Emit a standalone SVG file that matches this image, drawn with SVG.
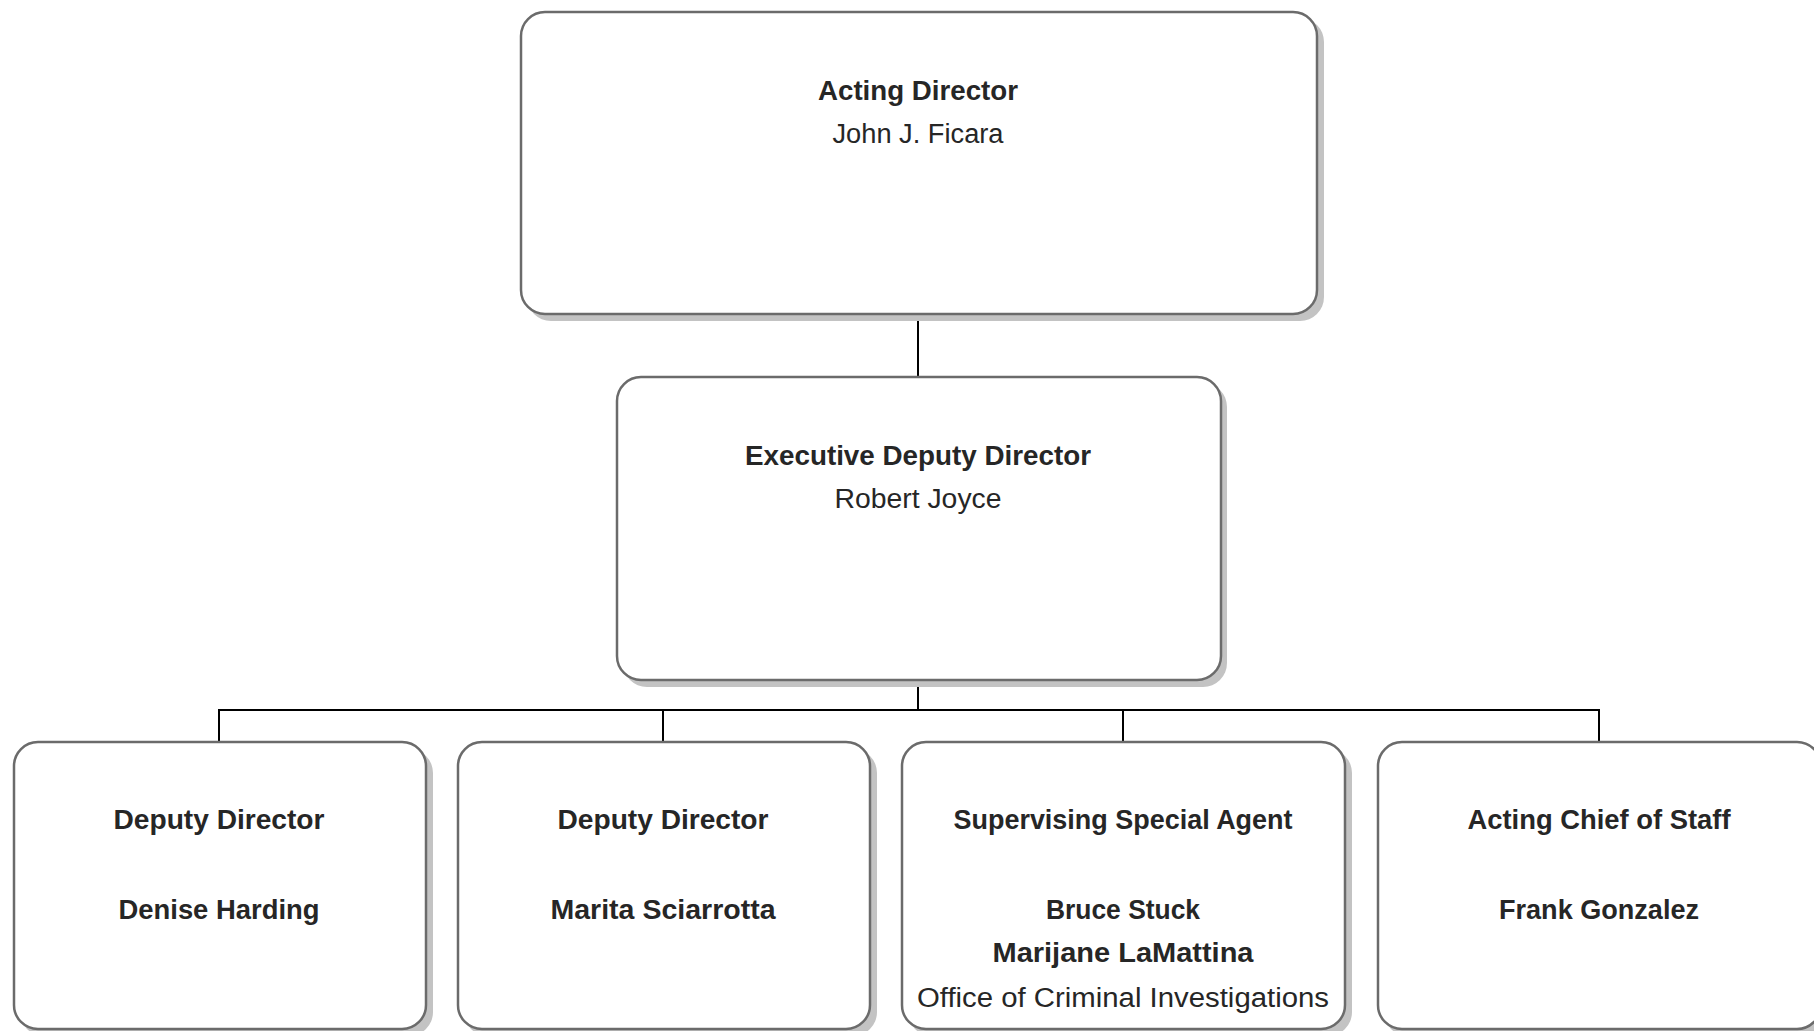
<svg xmlns="http://www.w3.org/2000/svg" width="1814" height="1031" viewBox="0 0 1814 1031">
<style>
.shadow{fill:#c3c3c3;stroke:none}
.box{fill:#ffffff;stroke:#6b6b6b;stroke-width:2.5}
.t{font-family:"Liberation Sans",Arial,sans-serif;font-size:27px;fill:#262626;text-anchor:middle}
.b{font-weight:bold}
.conn{stroke:#000000;stroke-width:2;fill:none}
</style>
<rect width="1814" height="1031" fill="#ffffff"/>
<g id="connectors">
<line class="conn" x1="918" y1="315" x2="918" y2="377"/>
<line class="conn" x1="918" y1="681" x2="918" y2="710"/>
<line class="conn" x1="219" y1="710" x2="1599" y2="710"/>
<line class="conn" x1="219" y1="709" x2="219" y2="742"/>
<line class="conn" x1="663" y1="709" x2="663" y2="742"/>
<line class="conn" x1="1123" y1="709" x2="1123" y2="742"/>
<line class="conn" x1="1599" y1="709" x2="1599" y2="742"/>
</g>
<g id="acting-director">
<rect class="shadow" x="527" y="18" width="797" height="303" rx="24"/>
<rect class="box" x="521" y="12" width="796" height="302" rx="24"/>
<text class="t b" x="918" y="100" textLength="200" lengthAdjust="spacingAndGlyphs">Acting Director</text>
<text class="t" x="918" y="143" textLength="171" lengthAdjust="spacingAndGlyphs">John J. Ficara</text>
</g>
<g id="executive-deputy-director">
<rect class="shadow" x="623" y="383" width="604" height="304" rx="24"/>
<rect class="box" x="617" y="377" width="604" height="303" rx="24"/>
<text class="t b" x="918" y="465" textLength="346" lengthAdjust="spacingAndGlyphs">Executive Deputy Director</text>
<text class="t" x="918" y="508" textLength="167" lengthAdjust="spacingAndGlyphs">Robert Joyce</text>
</g>
<g id="deputy-director-harding">
<rect class="shadow" x="20" y="749" width="413" height="287" rx="24"/>
<rect class="box" x="14" y="742" width="412" height="287" rx="24"/>
<text class="t b" x="219" y="829" textLength="211" lengthAdjust="spacingAndGlyphs">Deputy Director</text>
<text class="t b" x="219" y="919" textLength="201" lengthAdjust="spacingAndGlyphs">Denise Harding</text>
</g>
<g id="deputy-director-sciarrotta">
<rect class="shadow" x="464" y="749" width="413" height="287" rx="24"/>
<rect class="box" x="458" y="742" width="412" height="287" rx="24"/>
<text class="t b" x="663" y="829" textLength="211" lengthAdjust="spacingAndGlyphs">Deputy Director</text>
<text class="t b" x="663" y="919" textLength="225" lengthAdjust="spacingAndGlyphs">Marita Sciarrotta</text>
</g>
<g id="supervising-special-agent">
<rect class="shadow" x="908" y="749" width="444" height="287" rx="24"/>
<rect class="box" x="902" y="742" width="443" height="287" rx="24"/>
<text class="t b" x="1123" y="829" textLength="339" lengthAdjust="spacingAndGlyphs">Supervising Special Agent</text>
<text class="t b" x="1123" y="919" textLength="154" lengthAdjust="spacingAndGlyphs">Bruce Stuck</text>
<text class="t b" x="1123" y="962" textLength="261" lengthAdjust="spacingAndGlyphs">Marijane LaMattina</text>
<text class="t" x="1123" y="1007" textLength="412" lengthAdjust="spacingAndGlyphs">Office of Criminal Investigations</text>
</g>
<g id="acting-chief-of-staff">
<rect class="shadow" x="1384" y="749" width="444" height="287" rx="24"/>
<rect class="box" x="1378" y="742" width="443" height="287" rx="24"/>
<text class="t b" x="1599" y="829" textLength="263" lengthAdjust="spacingAndGlyphs">Acting Chief of Staff</text>
<text class="t b" x="1599" y="919" textLength="200" lengthAdjust="spacingAndGlyphs">Frank Gonzalez</text>
</g>
</svg>
